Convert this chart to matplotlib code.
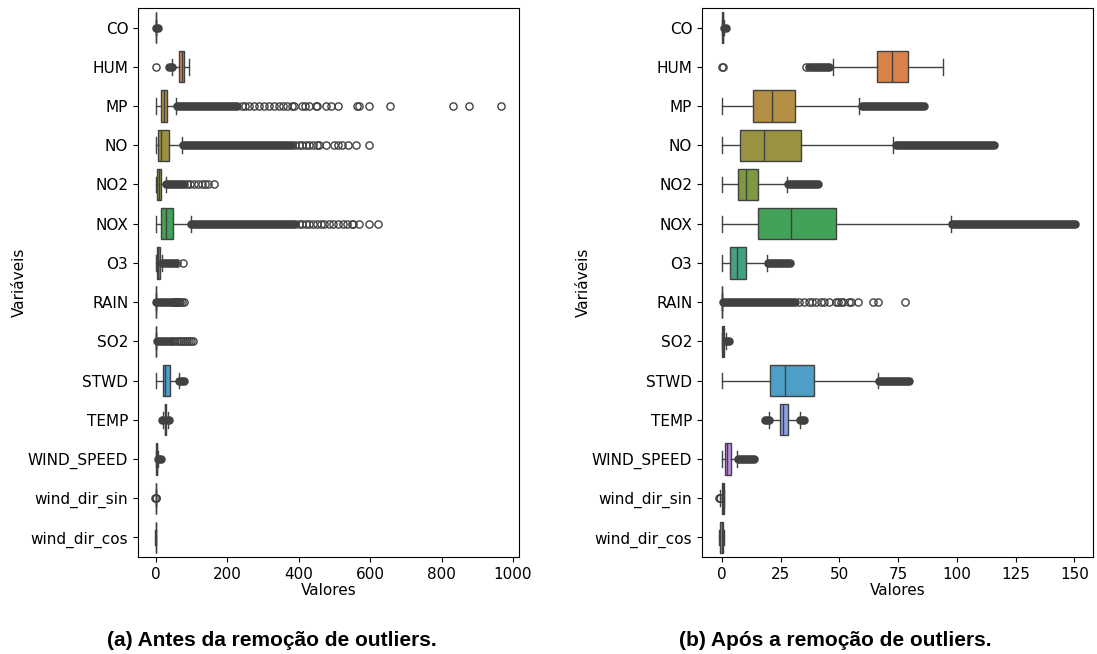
import colorsys
import matplotlib.pyplot as plt
import seaborn as sns

# %%
variaveis = ['CO', 'HUM', 'MP', 'NO', 'NO2', 'NOX', 'O3', 'RAIN', 'SO2',
             'STWD', 'TEMP', 'WIND_SPEED', 'wind_dir_sin', 'wind_dir_cos']

# (a) antes da remocao de outliers
a_whislo = [0.0, 46.0, 0.0, 0.0, 0.0, 0.0, 0.0, 0.0, 0.0, 0.0, 20.0, 0.0, -0.6, -1.0]
a_q1 = [0.2, 65.3, 13.4, 6.7, 4.3, 13.4, 2.0, 0.0, 0.1, 19.0, 24.7, 1.4, 0.1, -0.75]
a_med = [0.3, 73.0, 22.0, 15.4, 8.6, 29.8, 6.0, 0.0, 0.4, 27.0, 26.0, 2.3, 0.7, -0.1]
a_q3 = [0.5, 79.7, 31.7, 35.5, 15.4, 49.0, 10.6, 0.0, 0.8, 40.0, 28.2, 3.8, 0.95, 0.5]
a_whishi = [1.0, 94.0, 57.6, 73.0, 28.8, 98.0, 17.0, 0.0, 1.6, 65.0, 33.0, 7.0, 1.0, 1.0]
# faixas densas de outliers (inicio, fim)
a_faixas = [[(1.2, 5.0)], [(36.0, 45.5)], [(58.0, 227.0)], [(75.0, 380.0)],
            [(29.0, 80.0)], [(98.0, 390.0)], [(17.0, 54.0)], [(0.3, 45.0)],
            [(1.9, 40.0)], [(66.0, 80.0)], [(18.0, 20.0), (33.0, 35.5)],
            [(7.0, 14.5)], [], []]
# outliers isolados
a_pontos = [[], [0.0],
            [241, 251, 260, 275, 289, 304, 318, 332, 344, 356, 366, 380, 388,
             409, 419, 428, 448, 452, 476, 491, 510, 563, 570, 597, 655, 832, 876, 967],
            [390, 400, 410, 420, 430, 440, 450, 457, 476, 500, 510, 520, 539, 560, 598],
            [87, 97, 107, 119, 129, 138, 146, 164],
            [400, 410, 420, 430, 440, 450, 462, 472, 486, 496, 510, 524, 534, 548, 553, 568, 597, 621],
            [58, 77],
            [48, 51, 54, 57, 60, 63, 66, 69, 72, 78],
            [46, 52, 58, 64, 70, 76, 82, 88, 94, 99, 105],
            [], [], [], [-1.0, -0.9, -0.8], []]

# (b) apos a remocao de outliers
b_whislo = [0.0, 47.1, 0.0, 0.0, 0.0, 0.0, 0.0, 0.0, 0.0, 0.0, 19.9, 0.0, -0.6, -1.0]
b_q1 = [0.2, 66.1, 13.3, 7.7, 6.8, 15.4, 3.6, 0.0, 0.1, 20.6, 24.7, 1.4, 0.1, -0.75]
b_med = [0.3, 72.2, 21.4, 17.9, 10.5, 29.3, 6.6, 0.0, 0.4, 26.7, 26.1, 2.3, 0.7, -0.1]
b_q3 = [0.45, 79.1, 31.3, 33.9, 15.3, 48.5, 10.1, 0.0, 0.8, 39.4, 28.2, 3.75, 0.95, 0.5]
b_whishi = [0.9, 94.1, 58.3, 72.9, 27.9, 97.7, 19.3, 0.0, 1.6, 66.5, 33.1, 6.6, 1.0, 1.0]
b_faixas = [[(1.1, 1.9)], [(37.0, 45.5)], [(59.5, 86.0)], [(74.3, 116.0)],
            [(28.2, 40.8)], [(98.0, 150.3)], [(19.6, 28.9)], [(0.3, 31.2)],
            [(1.9, 3.0)], [(66.8, 79.5)], [(18.5, 19.9), (33.1, 35.1)],
            [(6.9, 13.9)], [], []]
b_pontos = [[], [0.0, 0.3, 35.8], [], [], [], [], [],
            [33, 35, 37, 38.4, 40, 42, 43.5, 45.6, 48.5, 49.5, 50.5, 51.4, 54, 55,
             57.9, 64.4, 66.5, 77.8],
            [], [], [], [], [-1.0, -0.9, -0.8], []]

# %%
paleta = sns.husl_palette(len(variaveis))
cores = [sns.desaturate(c, 0.75) for c in paleta]
lum = min(colorsys.rgb_to_hls(*c)[1] for c in paleta) * 0.6
cor_linha = (lum, lum, lum)

plt.rcParams.update({'font.size': 11})


def painel(ax, whislo, q1, med, q3, whishi, faixas, pontos, xlim, xticks):
    stats = []
    for i in range(len(variaveis)):
        stats.append({'whislo': whislo[i], 'q1': q1[i], 'med': med[i],
                      'q3': q3[i], 'whishi': whishi[i], 'fliers': pontos[i]})
    linha = {'color': cor_linha, 'linewidth': 1}
    bp = ax.bxp(stats, positions=range(len(variaveis)), widths=0.8,
                orientation='horizontal', patch_artist=True, capwidths=0.4,
                boxprops={'edgecolor': cor_linha, 'linewidth': 1},
                whiskerprops=linha, capprops=linha, medianprops=linha,
                flierprops={'marker': 'o', 'markersize': 5.2,
                            'markerfacecolor': 'none',
                            'markeredgecolor': cor_linha,
                            'markeredgewidth': 1})
    for caixa, c in zip(bp['boxes'], cores):
        caixa.set_facecolor(c)
    for i, fx in enumerate(faixas):
        for lo, hi in fx:
            ax.hlines(i, lo, hi, colors=[cor_linha], linewidth=6.2,
                      capstyle='round', zorder=3)
    ax.set_yticks(range(len(variaveis)), variaveis)
    ax.set_ylim(len(variaveis) - 0.5, -0.5)
    ax.set_xlim(*xlim)
    ax.set_xticks(xticks)
    ax.set_xlabel('Valores', labelpad=1)
    ax.set_ylabel('Variáveis', labelpad=1)


fig = plt.figure(figsize=(10.97, 6.54), dpi=100)
ax1 = fig.add_axes([0.1258, 0.1483, 0.3473, 0.8395])
ax2 = fig.add_axes([0.64, 0.1483, 0.3565, 0.8395])

painel(ax1, a_whislo, a_q1, a_med, a_q3, a_whishi, a_faixas, a_pontos,
       (-50, 1017), [0, 200, 400, 600, 800, 1000])
painel(ax2, b_whislo, b_q1, b_med, b_q3, b_whishi, b_faixas, b_pontos,
       (-8.4, 158), [0, 25, 50, 75, 100, 125, 150])

fonte_leg = ['Liberation Sans Narrow', 'Liberation Sans', 'DejaVu Sans']
fig.text(0.248, 0.02, '(a) Antes da remoção de outliers.', ha='center',
         va='center', fontsize=15, fontweight='bold', family=fonte_leg)
fig.text(0.761, 0.02, '(b) Após a remoção de outliers.', ha='center',
         va='center', fontsize=15, fontweight='bold', family=fonte_leg)

fig.savefig('out.png', dpi=100)
